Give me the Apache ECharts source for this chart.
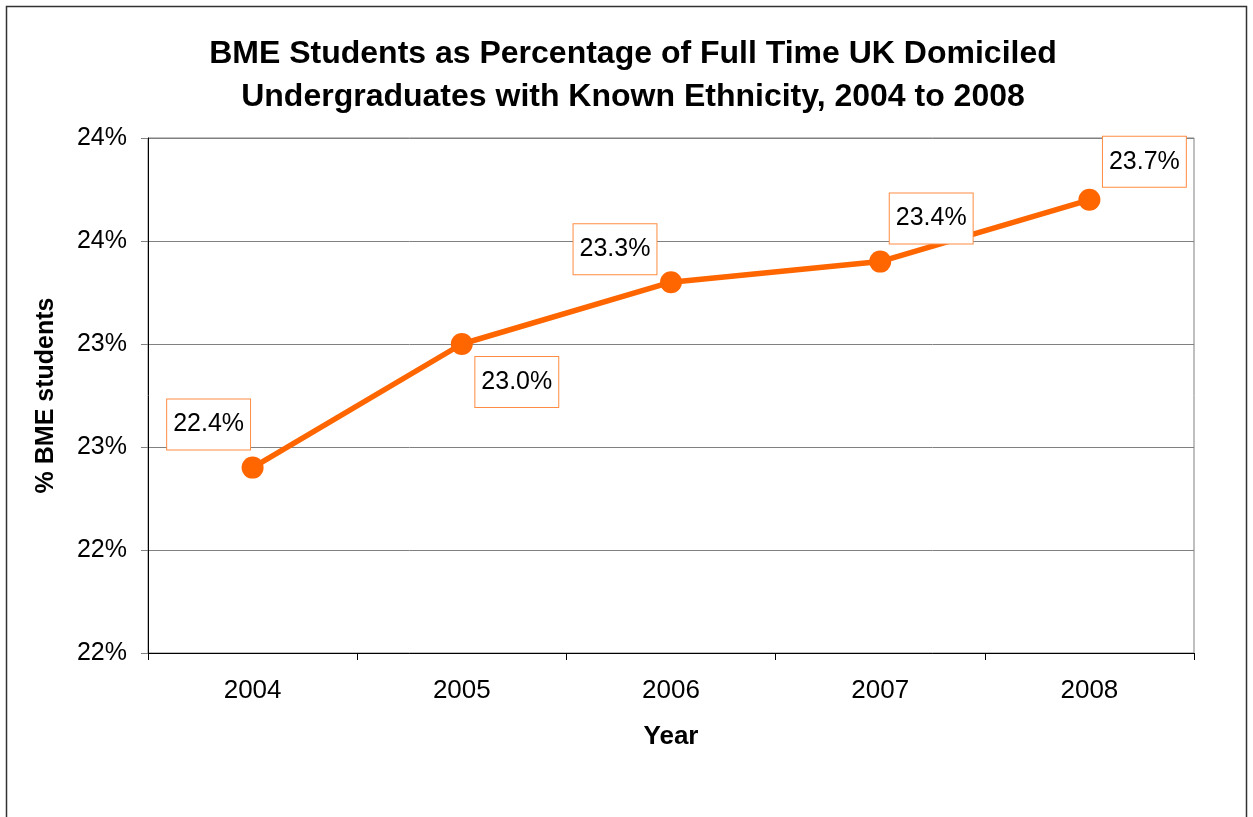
<!DOCTYPE html>
<html>
<head>
<meta charset="utf-8">
<script src="https://cdn.jsdelivr.net/npm/echarts@6/dist/echarts.min.js"></script>
<style>
html, body { margin: 0; padding: 0; background: #fff; }
#chart { width: 1253px; height: 817px; }
</style>
</head>
<body>
<div id="chart"></div>
<script>
// Academic years and BME share (%) of full-time UK-domiciled undergraduates
const years = ['2004', '2005', '2006', '2007', '2008'];
const bmeShare = [22.4, 23.0, 23.3, 23.4, 23.7];
// Per-point label offsets (px) from the marker centre
const labelOffsets = [[-44, -43], [55, 38], [-56, -33], [51, -43], [55, -38]];

const ORANGE = '#FF6600';
const FONT = 'Liberation Sans, Arial, sans-serif';

const chart = echarts.init(document.getElementById('chart'), null, { renderer: 'canvas' });

chart.setOption({
  backgroundColor: '#ffffff',
  animation: false,
  title: {
    text: 'BME Students as Percentage of Full Time UK Domiciled\nUndergraduates with Known Ethnicity, 2004 to 2008',
    left: 628,
    textAlign: 'center',
    top: 28,
    textStyle: { fontFamily: FONT, fontWeight: 'bold', fontSize: 32, lineHeight: 43, color: '#000' }
  },
  graphic: [{
    type: 'rect',
    shape: { x: 6.5, y: 6.5, width: 1240, height: 830 },
    style: { fill: null, stroke: '#333', lineWidth: 1.5 },
    silent: true
  }],
  grid: {
    left: 148, right: 59, top: 138, bottom: 164,
    show: true, borderColor: '#808080', borderWidth: 1, backgroundColor: 'transparent'
  },
  xAxis: {
    type: 'category',
    data: years,
    boundaryGap: true,
    name: 'Year',
    nameLocation: 'middle',
    nameGap: 71,
    nameTextStyle: { fontFamily: FONT, fontWeight: 'bold', fontSize: 26, color: '#000' },
    axisLine: { lineStyle: { color: '#000', width: 1 } },
    axisTick: { show: true, length: 7, lineStyle: { color: '#000' } },
    axisLabel: { fontFamily: FONT, fontSize: 26, color: '#000', margin: 25 },
    splitLine: { show: false }
  },
  yAxis: {
    type: 'value',
    min: 21.5,
    max: 24,
    interval: 0.5,
    name: '% BME students',
    nameLocation: 'middle',
    nameGap: 89,
    nameRotate: 90,
    nameTextStyle: { fontFamily: FONT, fontWeight: 'bold', fontSize: 25, color: '#000' },
    axisLine: { show: true, lineStyle: { color: '#000', width: 1 } },
    axisTick: { show: true, length: 7, lineStyle: { color: '#808080' } },
    axisLabel: {
      fontFamily: FONT, fontSize: 25, color: '#000', margin: 21,
      formatter: v => Math.round(v) + '%'
    },
    splitLine: { show: true, lineStyle: { color: '#808080', width: 1 } }
  },
  series: [{
    type: 'line',
    data: bmeShare.map((v, i) => ({
      value: v,
      label: { offset: labelOffsets[i] }
    })),
    symbol: 'circle',
    symbolSize: 22,
    lineStyle: { color: ORANGE, width: 5.5 },
    itemStyle: { color: ORANGE },
    z: 3,
    label: {
      show: true,
      position: 'inside',
      align: 'center',
      verticalAlign: 'middle',
      formatter: p => p.value.toFixed(1) + '%',
      fontFamily: FONT,
      fontSize: 25,
      color: '#000',
      backgroundColor: '#ffffff',
      borderColor: '#FF8C42',
      borderWidth: 1,
      padding: [13, 6, 12, 6]
    }
  }]
});
</script>
</body>
</html>
